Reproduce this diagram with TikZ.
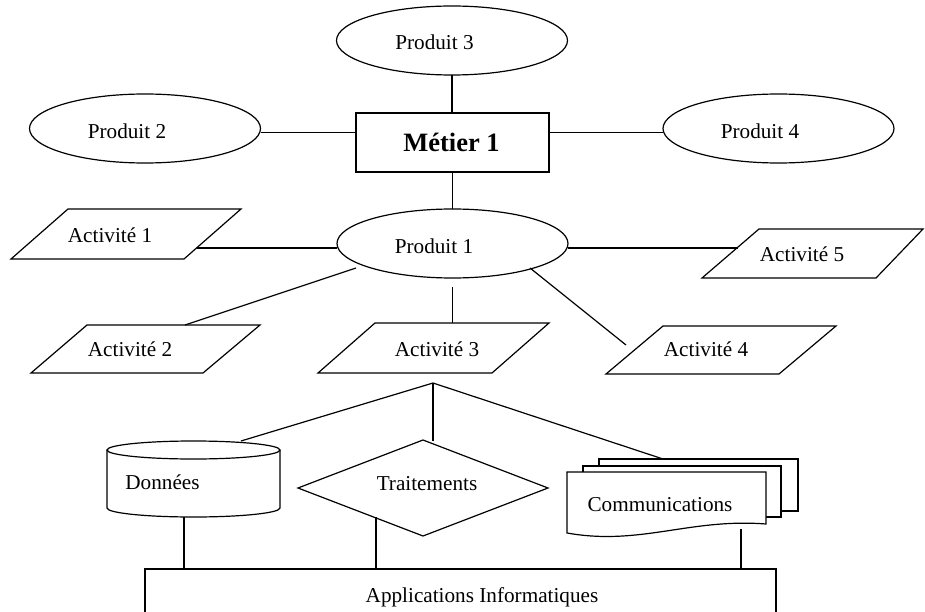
\documentclass[tikz,border=0pt]{standalone}
\usepackage{fontspec}
\setmainfont{Liberation Serif}
\usetikzlibrary{shapes.geometric}
\begin{document}
\begin{tikzpicture}[x=1pt,y=-1pt,line width=1.2pt,line join=miter,
  txt/.style={inner sep=0pt,font=\fontsize{21.2}{25}\selectfont,text height=14pt,text depth=0pt},
  btxt/.style={inner sep=0pt,font=\fontsize{26.5}{30}\selectfont\bfseries,text height=17.5pt,text depth=0pt},
  prod/.style={draw,ellipse,minimum width=231pt,minimum height=69pt,inner sep=0pt,outer sep=0pt},
  metier/.style={draw,rectangle,minimum width=193pt,minimum height=59pt,inner sep=0pt,outer sep=0pt},
  pg/.style={draw,fill=white}]
\useasboundingbox (0,0) rectangle (925,612);

% top products
\node[prod] (p3) at (452,40.5) {};
\node[txt] (t3) at (434.5,43) {Produit 3};
\node[metier] (m1) at (452.5,142.5) {};
\node[btxt] (tm) at (451.5,143) {Métier 1};
\node[prod] (p2) at (145,128.5) {};
\node[txt] (t2) at (127,132) {Produit 2};
\node[prod] (p4) at (778.5,128.5) {};
\node[txt] (t4) at (760,132) {Produit 4};
\node[prod] (p1) at (452.5,243.5) {};
\node[txt] (t1) at (434,246) {Produit 1};

\draw (p3.south) -- (p3.south |- m1.north);
\draw ([yshift=-4pt]p2.east) -- ([yshift=-4pt]p2.east -| m1.west);
\draw ([yshift=-4pt]p4.west) -- ([yshift=-4pt]p4.west -| m1.east);
\draw (m1.south) -- (m1.south |- p1.north);

% activities
\draw[pg] (68,209) -- (241,209) -- (184,259) -- (11,259) -- cycle;
\node[txt] (a1) at (110,235) {Activité 1};
\draw[pg] (87,325) -- (260,325) -- (203,373) -- (31,373) -- cycle;
\node[txt] (a2) at (130,349) {Activité 2};
\draw[pg] (375,323) -- (549,323) -- (492,373) -- (318,373) -- cycle;
\node[txt] (a3) at (437,349) {Activité 3};
\draw[pg] (663,326) -- (836,326) -- (779,374) -- (606,374) -- cycle;
\node[txt] (a4) at (706,349) {Activité 4};
\draw[pg] (759,229) -- (923,229) -- (876,278) -- (702,278) -- cycle;
\node[txt] (a5) at (802,254) {Activité 5};

\coordinate (c1a) at (197,248);
\coordinate (c2a) at (185,325);
\coordinate (c2b) at (356,268);
\coordinate (c3a) at (452.5,287);
\coordinate (c3b) at (452.5,323);
\coordinate (c4a) at (530,268);
\coordinate (c4b) at (626,345);
\coordinate (c5b) at (738,248);
\draw (c1a) -- (c1a -| p1.west);
\draw (c2a) -- (c2b);
\draw (c3a) -- (c3b);
\draw (c4a) -- (c4b);
\draw (c5b -| p1.east) -- (c5b);

% lower part
\coordinate (apex) at (433,383);
\coordinate (dtop) at (241,441);
\coordinate (ttop) at (433,441);
\coordinate (ctop) at (663,459);
\draw (apex) -- (dtop);
\draw (apex) -- (ttop);
\draw (apex) -- (ctop);

% Données cylinder
\draw[fill=white] (107,450) -- (107,508) arc[start angle=180,end angle=360,x radius=86.5pt,y radius=9pt] -- (280,450);
\draw (193.5,450) ellipse [x radius=86.5pt,y radius=9pt];
\node[txt] (td) at (162.5,482) {Données};

% Traitements diamond
\draw[fill=white] (423,440) -- (548,488) -- (423,536) -- (298,488) -- cycle;
\node[txt] (tt) at (427,483) {Traitements};

% Communications multi-document
\draw[fill=white] (599,459) rectangle (798,511);
\draw[fill=white] (583,466) rectangle (781,517);
\draw[fill=white] (567,472) -- (766,472) -- (766,524) .. controls (690,518) and (640,546) .. (567,533) -- cycle;
\node[txt] (tc) at (660,504) {Communications};

% Applications box
\draw (145,616) -- (145,569) -- (776,569) -- (776,616);
\node[txt] (ta) at (482,595) {Applications Informatiques};

\draw (184,517) -- (184,569);
\draw (376,517) -- (376,569);
\draw (741,529) -- (741,569);
\end{tikzpicture}
\end{document}
